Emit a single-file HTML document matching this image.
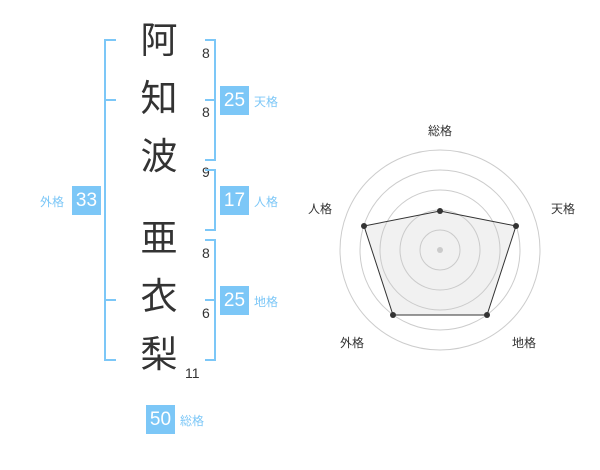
<!DOCTYPE html>
<html><head><meta charset="utf-8"><style>
body{margin:0;width:600px;height:470px;background:#fff;position:relative;overflow:hidden;font-family:"Liberation Sans","Noto Sans CJK JP",sans-serif}
.k{position:absolute;left:134px;font-size:37px;color:#333;line-height:40px;width:50px;text-align:center}
.n{position:absolute;font-size:14px;color:#333;line-height:14px}
.b{position:absolute;width:29px;height:29px;background:#7cc7f7;color:#fff;font-size:19px;line-height:29px;text-align:center}
.l{position:absolute;font-size:12px;color:#7cc7f7;line-height:14px}
</style></head><body>
<div class="k" style="top:21px">阿</div>
<div class="k" style="top:79px">知</div>
<div class="k" style="top:137px">波</div>
<div class="k" style="top:219px">亜</div>
<div class="k" style="top:277px">衣</div>
<div class="k" style="top:335px">梨</div>
<div class="n" style="left:202px;top:46px">8</div>
<div class="n" style="left:202px;top:105px">8</div>
<div class="n" style="left:202px;top:165px">9</div>
<div class="n" style="left:202px;top:246px">8</div>
<div class="n" style="left:202px;top:306px">6</div>
<div class="n" style="left:185px;top:366px">11</div>
<svg width="600" height="470" style="position:absolute;left:0;top:0">
<g stroke="#7cc7f7" stroke-width="2" fill="none">
<path d="M116 40H105V360H116M105 100H116M105 300H116"/>
<path d="M205 40H215V160H205M205 100H215"/>
<path d="M205 170H215V230H205"/>
<path d="M205 240H215V360H205M205 300H215"/>
</g>
<g fill="none" stroke="#ccc" stroke-width="1">
<circle cx="440" cy="250" r="20"/><circle cx="440" cy="250" r="40"/><circle cx="440" cy="250" r="60"/><circle cx="440" cy="250" r="80"/><circle cx="440" cy="250" r="100"/>
</g>
<circle cx="440" cy="250" r="3" fill="#ccc"/>
<polygon points="440,211 516,226 487,315 393,315 364,226" fill="rgba(200,200,200,0.25)" stroke="#333" stroke-width="1"/>
<g fill="#333"><circle cx="440" cy="211" r="3"/><circle cx="516" cy="226" r="3"/><circle cx="487" cy="315" r="3"/><circle cx="393" cy="315" r="3"/><circle cx="364" cy="226" r="3"/></g>
<g font-size="12" fill="#333" text-anchor="middle" font-family="Liberation Sans,Noto Sans CJK JP,sans-serif">
<text x="440" y="135">総格</text><text x="563" y="213">天格</text><text x="524" y="347">地格</text><text x="352" y="347">外格</text><text x="320" y="213">人格</text>
</g>
</svg>
<div class="b" style="left:72px;top:186px">33</div><div class="l" style="left:40px;top:195px">外格</div>
<div class="b" style="left:220px;top:86px">25</div><div class="l" style="left:254px;top:95px">天格</div>
<div class="b" style="left:220px;top:186px">17</div><div class="l" style="left:254px;top:195px">人格</div>
<div class="b" style="left:220px;top:286px">25</div><div class="l" style="left:254px;top:295px">地格</div>
<div class="b" style="left:146px;top:405px">50</div><div class="l" style="left:180px;top:414px">総格</div>
</body></html>
